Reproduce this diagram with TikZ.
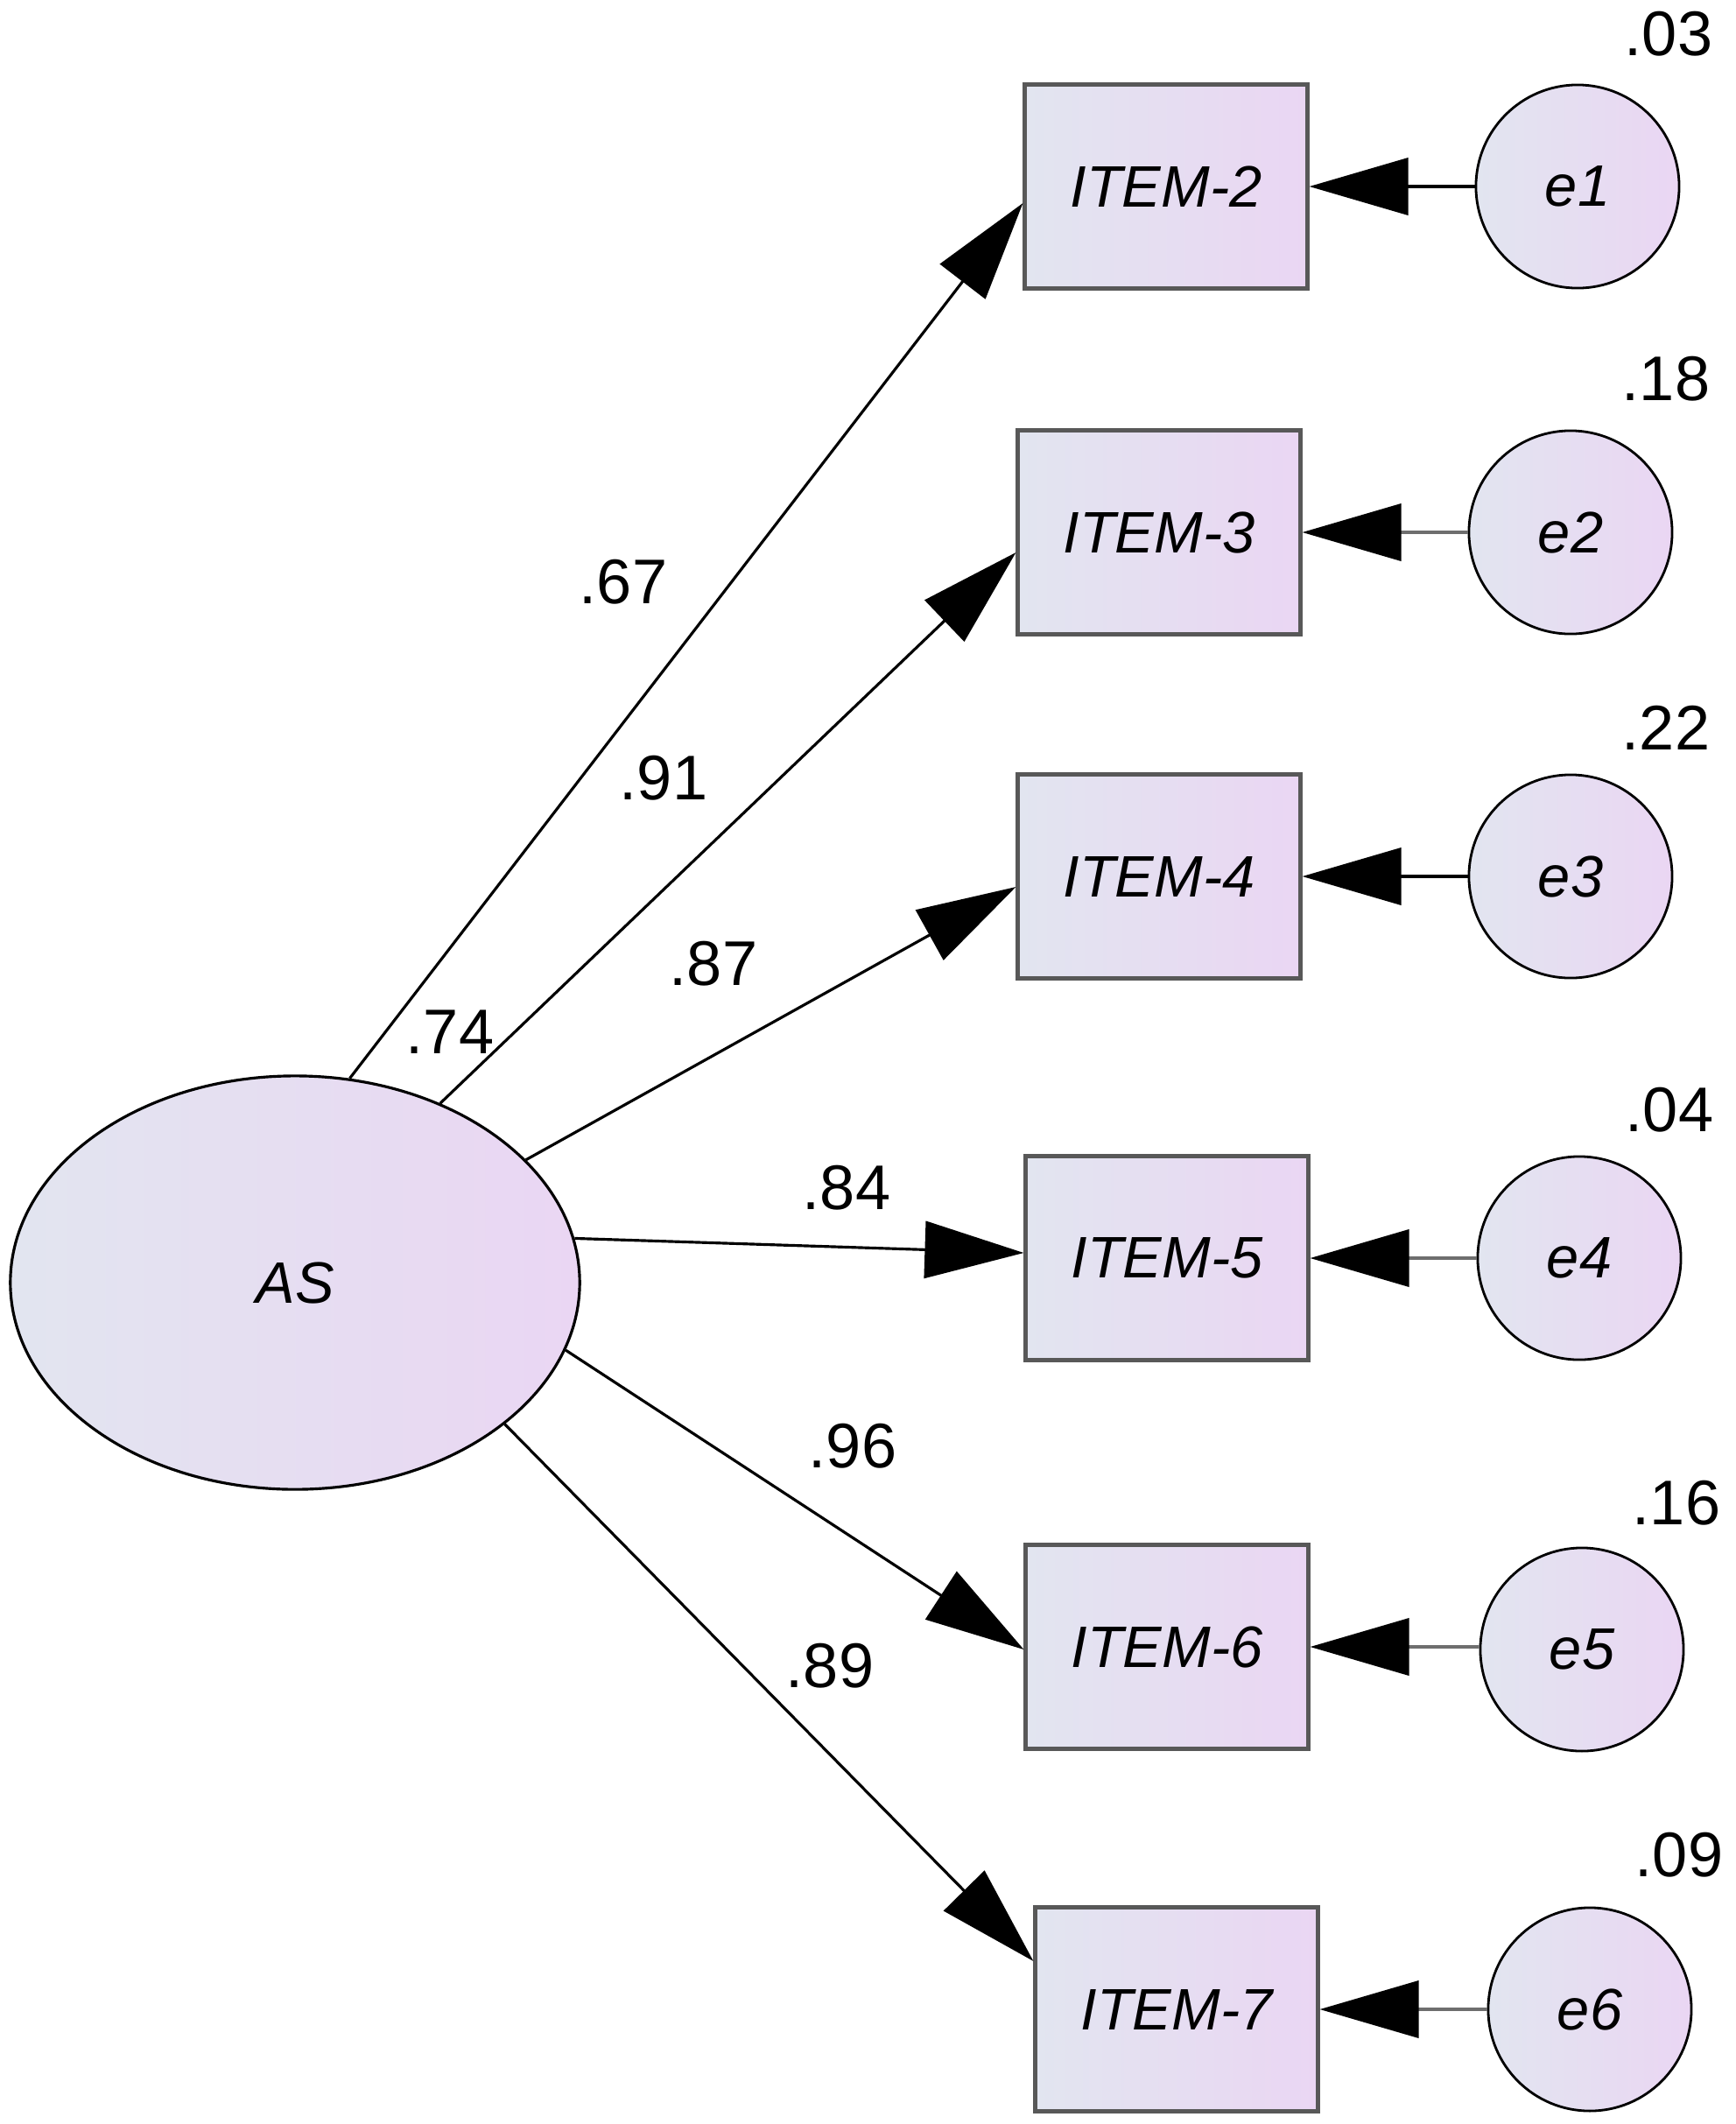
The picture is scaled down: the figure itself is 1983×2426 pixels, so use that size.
\documentclass[tikz,border=0pt]{standalone}
\usepackage{fontspec}
\setmainfont{Liberation Sans}
\usetikzlibrary{arrows.meta,shapes.geometric}
\definecolor{fillleft}{RGB}{226,229,240}
\definecolor{fillright}{RGB}{234,214,243}
\definecolor{boxline}{RGB}{88,88,88}
\definecolor{errline}{RGB}{110,110,110}

\tikzset{
  itembox/.style={draw=boxline, line width=1.4pt, left color=fillleft, right color=fillright,
    minimum width=3.22cm, minimum height=2.32cm, inner sep=0pt,
    font=\fontsize{19}{22}\selectfont\itshape},
  errcircle/.style={circle, draw, line width=0.8pt, left color=fillleft, right color=fillright,
    minimum size=2.32cm, inner sep=0pt, font=\fontsize{19}{22}\selectfont\itshape},
  latent/.style={ellipse, draw, line width=0.9pt, left color=fillleft, right color=fillright,
    minimum width=6.5cm, minimum height=4.72cm, inner sep=0pt,
    font=\fontsize{19}{22}\selectfont\itshape},
  loadarrow/.style={-{Triangle[length=1.13cm,width=0.65cm]}, line width=0.9pt},
  errarrow/.style={-{Triangle[length=1.13cm,width=0.65cm,color=black,fill=black]}, line width=1.1pt},
  est/.style={font=\fontsize{20.5}{24}\selectfont, inner sep=0pt}
}

\begin{document}
\begin{tikzpicture}[x=0.01cm,y=-0.01cm]
  \useasboundingbox (0,0) rectangle (1983,2426);

  % latent factor
  \node [latent] (AS) at (337,1465) {AS};

  % observed items
  \node [itembox] (item2) at (1332,213) {ITEM-2};
  \node [itembox] (item3) at (1324,608) {ITEM-3};
  \node [itembox] (item4) at (1324,1001) {ITEM-4};
  \node [itembox] (item5) at (1333,1437) {ITEM-5};
  \node [itembox] (item6) at (1333,1881) {ITEM-6};
  \node [itembox] (item7) at (1344,2295) {ITEM-7};

  % error terms
  \node [errcircle] (e1) at (1802,213) {e1};
  \node [errcircle] (e2) at (1794,608) {e2};
  \node [errcircle] (e3) at (1794,1001) {e3};
  \node [errcircle] (e4) at (1804,1437) {e4};
  \node [errcircle] (e5) at (1807,1884) {e5};
  \node [errcircle] (e6) at (1816,2295) {e6};

  % loadings
  \draw [loadarrow] (AS.75) -- ([yshift=-0.19cm]item2.west);
  \draw [loadarrow] (AS.51) -- ([yshift=-0.23cm]item3.west);
  \draw [loadarrow] (AS.28) -- ([yshift=-0.12cm]item4.west);
  \draw [loadarrow] (AS.9) -- ([yshift=0.06cm]item5.west);
  \draw [loadarrow] (AS.-14) -- ([yshift=-0.03cm]item6.west);
  \draw [loadarrow] (AS.-34) -- ([yshift=0.55cm]item7.west);

  \draw [errarrow] (e1.west) -- (item2.east);
  \draw [errarrow, errline] (e2.west) -- (item3.east);
  \draw [errarrow] (e3.west) -- (item4.east);
  \draw [errarrow, errline] (e4.west) -- (item5.east);
  \draw [errarrow, errline] ([yshift=0.03cm]e5.west) -- (item6.east);
  \draw [errarrow, errline] (e6.west) -- (item7.east);

  % estimates
  \node [est] (l2) at (712,665) {.67};
  \node [est] (l3) at (758,889) {.91};
  \node [est] (l1) at (514,1179) {.74};
  \node [est] (l4) at (815,1101) {.87};
  \node [est] (l5) at (967,1357) {.84};
  \node [est] (l6) at (974,1652) {.96};
  \node [est] (l7) at (948,1903) {.89};

  \node [est] (r2) at (1906,39) {.03};
  \node [est] (r3) at (1903,433) {.18};
  \node [est] (r4) at (1903,831) {.22};
  \node [est] (r5) at (1907,1268) {.04};
  \node [est] (r6) at (1915,1717) {.16};
  \node [est] (r7) at (1918,2119) {.09};
\end{tikzpicture}
\end{document}
